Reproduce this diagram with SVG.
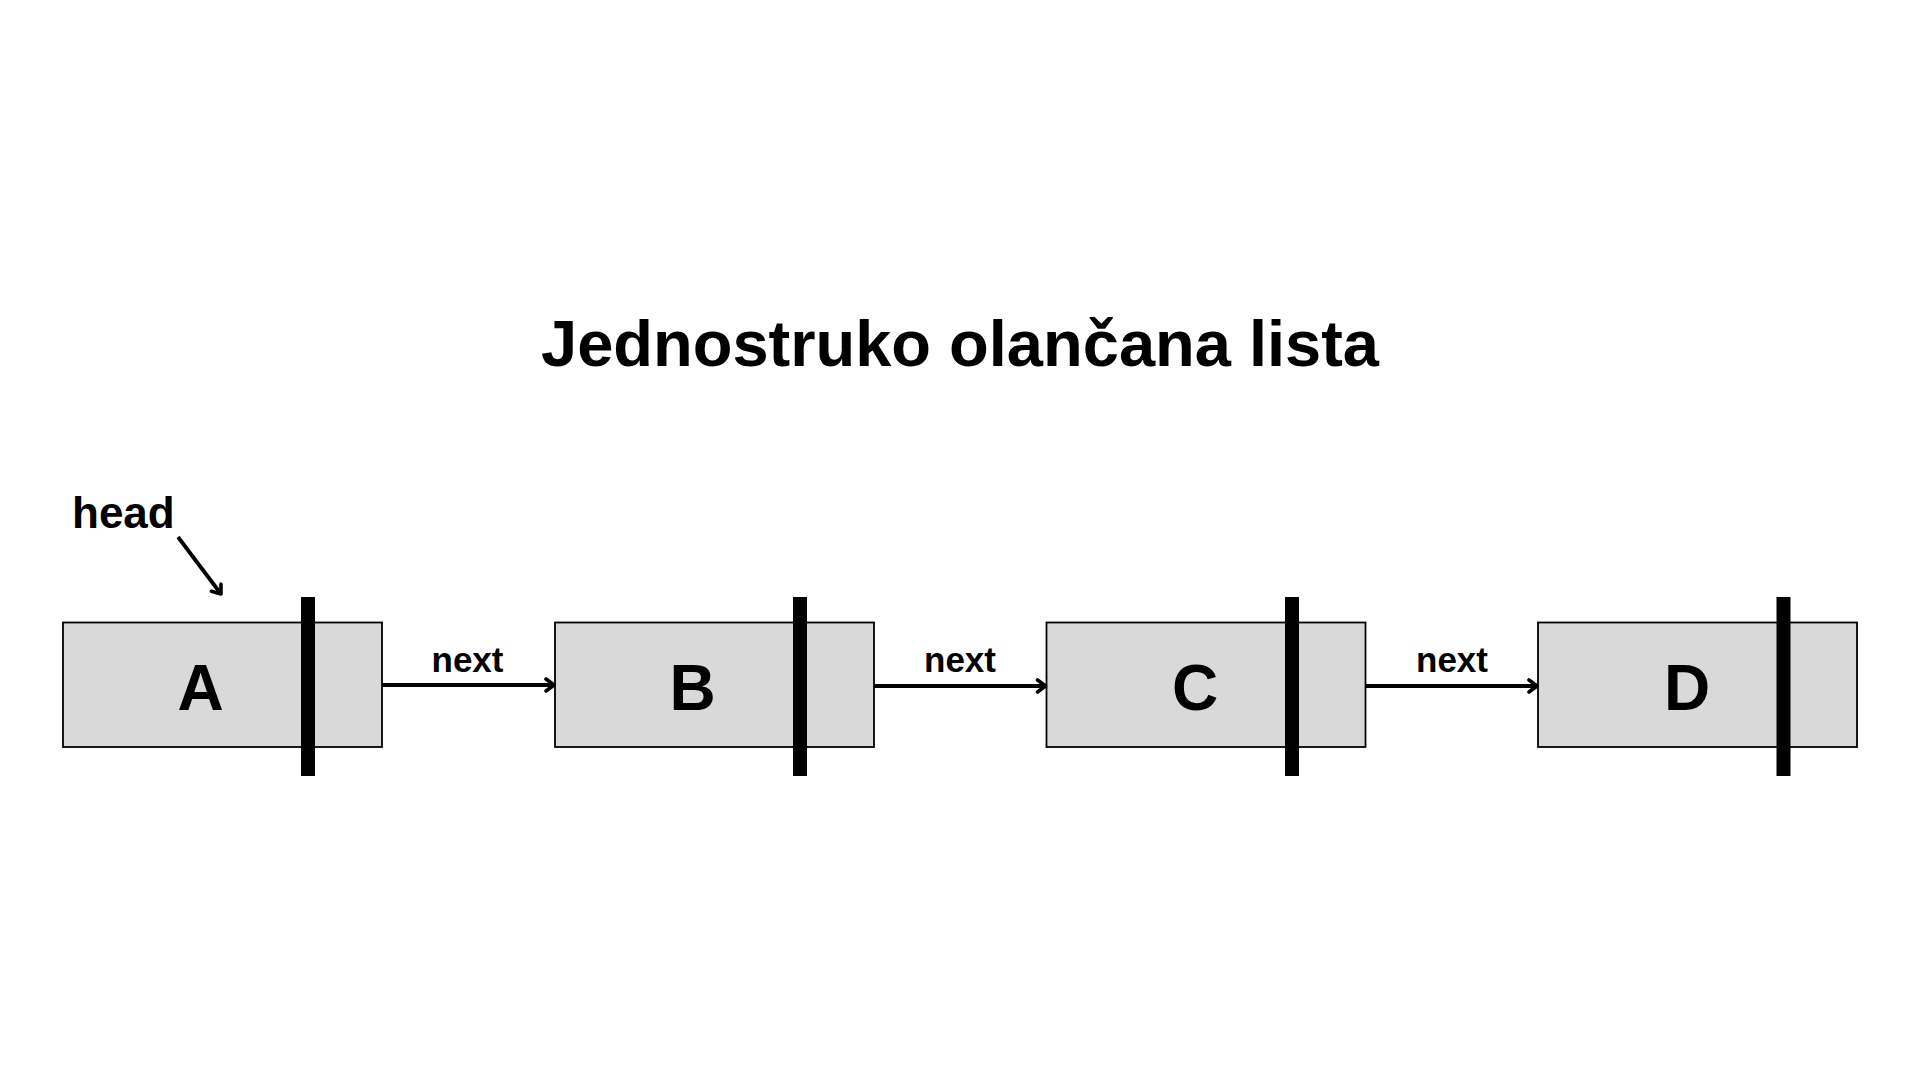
<svg xmlns="http://www.w3.org/2000/svg" width="1920" height="1080" viewBox="0 0 1920 1080">
<defs>
<style>
.box{fill:#d9d9d9;stroke:#000;stroke-width:1.8}
.bar{fill:#000}
.lbl{font-family:"Liberation Sans",Arial,sans-serif;font-weight:bold;font-size:64px;fill:#000;text-anchor:middle}
.nx{font-family:"Liberation Sans",Arial,sans-serif;font-weight:bold;font-size:35px;fill:#000;text-anchor:middle}
.edge{stroke:#000;stroke-width:3.8;fill:none}
</style>
<marker id="ah" markerWidth="14" markerHeight="16" refX="11" refY="8" orient="auto" markerUnits="userSpaceOnUse">
<path d="M3,2 L11,8 L3,14" fill="none" stroke="#000" stroke-width="3.6" stroke-linecap="round" stroke-linejoin="round"/>
</marker>
</defs>
<rect width="1920" height="1080" fill="#fff"/>
<text x="960" y="366" font-family="'Liberation Sans',Arial,sans-serif" font-weight="bold" font-size="65" text-anchor="middle" fill="#000">Jednostruko olančana lista</text>
<text x="72" y="528" font-family="'Liberation Sans',Arial,sans-serif" font-weight="bold" font-size="44" fill="#000">head</text>
<g id="nodeA">
<rect class="box" x="63" y="622.5" width="319" height="124.5"/>
<rect class="bar" x="301" y="597" width="14" height="179"/>
<text class="lbl" x="200.5" y="710">A</text>
</g>
<g id="nodeB">
<rect class="box" x="555" y="622.5" width="319" height="124.5"/>
<rect class="bar" x="793" y="597" width="14" height="179"/>
<text class="lbl" x="692.5" y="710">B</text>
</g>
<g id="nodeC">
<rect class="box" x="1046.5" y="622.5" width="319" height="124.5"/>
<rect class="bar" x="1285" y="597" width="14" height="179"/>
<text class="lbl" x="1195" y="710">C</text>
</g>
<g id="nodeD">
<rect class="box" x="1538" y="622.5" width="319" height="124.5"/>
<rect class="bar" x="1776.5" y="597" width="14" height="179"/>
<text class="lbl" x="1687" y="710">D</text>
</g>
<g id="connectors">
<line class="edge" x1="178" y1="537" x2="221" y2="594" marker-end="url(#ah)"/>
<line class="edge" x1="382" y1="685" x2="554" y2="685" marker-end="url(#ah)"/>
<text class="nx" x="467.5" y="671.5">next</text>
<line class="edge" x1="874" y1="686" x2="1045.5" y2="686" marker-end="url(#ah)"/>
<text class="nx" x="960" y="671.5">next</text>
<line class="edge" x1="1365.5" y1="686" x2="1537" y2="686" marker-end="url(#ah)"/>
<text class="nx" x="1452" y="671.5">next</text>
</g>
</svg>
